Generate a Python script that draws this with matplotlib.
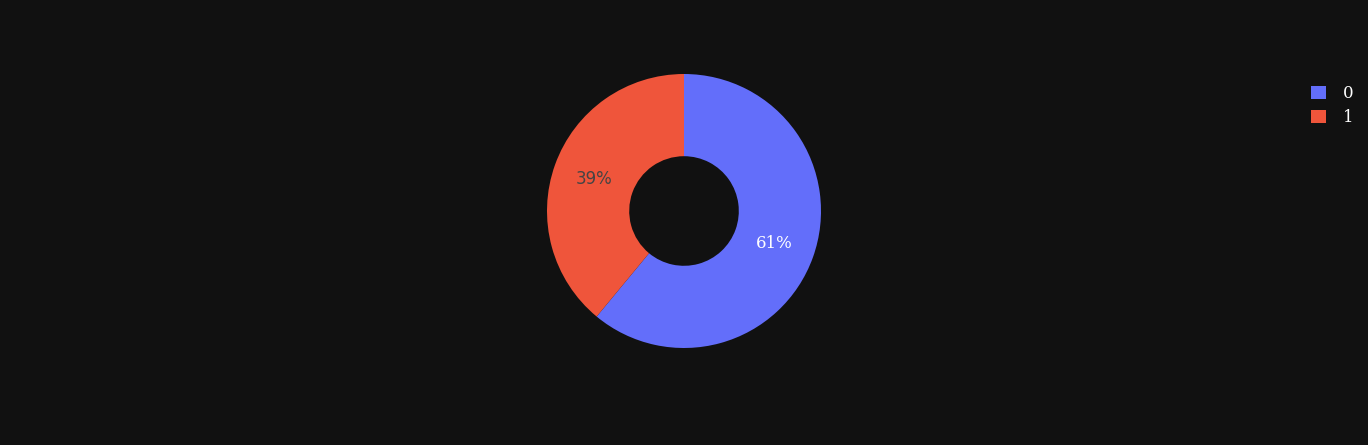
import matplotlib.pyplot as plt

labels = ["0", "1"]
values = [61, 39]
colors = ["#636efa", "#EF553B"]
text_colors = ["white", "#444444"]

W, H = 1368, 445
fig = plt.figure(figsize=(W / 100, H / 100), dpi=100, facecolor="#111111")
ax = fig.add_axes([0, 0, 1, 1])
ax.set_facecolor("#111111")

R = 137
hole = 0.4
wedges, texts, autotexts = ax.pie(
    values, colors=colors, center=(684, H - 211), radius=R,
    startangle=90, counterclock=False,
    wedgeprops=dict(width=R * (1 - hole), linewidth=0),
    autopct="%1.0f%%", pctdistance=(1 + hole) / 2, frame=True,
    textprops=dict(fontsize=12, family="DejaVu Sans"))
for t, c in zip(autotexts, text_colors):
    t.set_color(c)
autotexts[0].set_family("DejaVu Serif")
ax.set_xlim(0, W)
ax.set_ylim(0, H)
ax.set_aspect("equal")
ax.axis("off")

leg = fig.legend(wedges, labels, loc="upper left",
                 bbox_to_anchor=(1296 / W, 1 - 70 / H),
                 frameon=False, handlelength=0.9, handleheight=0.85,
                 handletextpad=1.0, labelspacing=0.45,
                 prop=dict(family="DejaVu Serif", size=12))
for t in leg.get_texts():
    t.set_color("white")

fig.savefig("out.png", dpi=100, facecolor="#111111")
